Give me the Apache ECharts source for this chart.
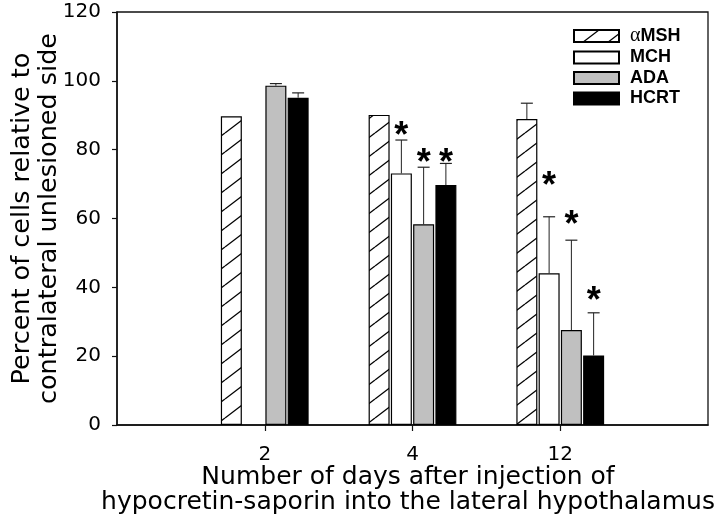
<!DOCTYPE html>
<html>
<head>
<meta charset="utf-8">
<script src="https://cdn.jsdelivr.net/npm/echarts@6/dist/echarts.min.js"></script>
<style>
html,body{margin:0;padding:0;background:#fff;}
#chart{width:720px;height:527px;}
</style>
</head>
<body>
<div id="chart"></div>
<script>
// ---- data ----
const categories = ['', '2', '4', '12', ''];
const seriesNames = ['αMSH', 'MCH', 'ADA', 'HCRT'];
const yTicks = [0, 20, 40, 60, 80, 100, 120];

const amshValues = [null, 89.7, 90.1, 88.9, null];
const mchValues  = [null, null, 73.1, 44.1, null];
const adaValues  = [null, 98.6, 58.3, 27.6, null];
const hcrtValues = [null, 95.1, 69.7, 20.2, null];

const amshErr = [0, 0, 0, 4.6, 0];
const mchErr  = [0, 0, 9.7, 16.4, 0];
const adaErr  = [0, 0.6, 16.6, 26.1, 0];
const hcrtErr = [0, 1.4, 6.3, 12.4, 0];

// y position (in axis units) of the significance asterisks
const amshStar = [null, null, null, null, null];
const mchStar  = [null, null, 85.7, 71.2, null];
const adaStar  = [null, null, 77.9, 59.8, null];
const hcrtStar = [null, null, 77.9, 37.8, null];

// ---- styles ----
const BAR_W = 21;
const BAR_GAP = 0.06;
const STEP = BAR_W * (1 + BAR_GAP);
const STAR_DY = 7;

function hatchPattern() {
  const W = 25, H = 19;
  const c = document.createElement('canvas');
  c.width = W; c.height = H;
  const g = c.getContext('2d');
  g.fillStyle = '#fff';
  g.fillRect(0, 0, W, H);
  g.strokeStyle = '#000';
  g.lineWidth = 1.3;
  for (let k = -1; k <= 1; k++) {
    g.beginPath();
    g.moveTo(0, H + k * H);
    g.lineTo(W, 0 + k * H);
    g.stroke();
  }
  return c;
}

const fills = [
  { image: hatchPattern(), repeat: 'repeat' },
  '#ffffff',
  '#c0c0c0',
  '#000000'
];
const valueSets = [amshValues, mchValues, adaValues, hcrtValues];
const errSets = [amshErr, mchErr, adaErr, hcrtErr];
const starSets = [amshStar, mchStar, adaStar, hcrtStar];

const barSeries = seriesNames.map((name, s) => ({
  name: name,
  type: 'bar',
  barWidth: BAR_W,
  barGap: (BAR_GAP * 100) + '%',
  data: valueSets[s].map(v => (v == null ? '-' : v)),
  itemStyle: { color: fills[s], borderColor: '#000', borderWidth: 1.2 },
  emphasis: { disabled: true },
  animation: false,
  z: 2
}));

const errRows = [];
for (let s = 0; s < seriesNames.length; s++) {
  for (let c = 0; c < categories.length; c++) {
    const v = valueSets[s][c];
    if (v == null) continue;
    const st = starSets[s][c];
    errRows.push([c, s, v, errSets[s][c], st == null ? -1 : st]);
  }
}

function renderErr(params, api) {
  const c = api.value(0), s = api.value(1), v = api.value(2), e = api.value(3), st = api.value(4);
  const p = api.coord([c, v]);
  const x = p[0] + (s - 1.5) * STEP;
  const children = [];
  if (e > 0) {
    const top = api.coord([c, v + e])[1];
    children.push({ type: 'line', shape: { x1: x, y1: p[1], x2: x, y2: top }, style: { stroke: '#222', lineWidth: 1 } });
    children.push({ type: 'line', shape: { x1: x - 6, y1: top, x2: x + 6, y2: top }, style: { stroke: '#222', lineWidth: 1.2 } });
  }
  if (st >= 0) {
    const sy = api.coord([c, st])[1];
    children.push({
      type: 'text', x: x, y: sy + STAR_DY,
      style: { text: '*', fontSize: 36, fontWeight: 'bold', fontFamily: 'Liberation Sans', fill: '#000', align: 'center', verticalAlign: 'middle' }
    });
  }
  return { type: 'group', children: children };
}

const chart = echarts.init(document.getElementById('chart'), null, { renderer: 'canvas' });
chart.setOption({
  animation: false,
  backgroundColor: '#fff',
  grid: {
    left: 117, right: 12, top: 12, bottom: 102,
    show: true, borderColor: '#111', borderWidth: 1.3, backgroundColor: 'transparent',
    outerBoundsMode: 'none'
  },
  legend: {
    data: seriesNames,
    orient: 'vertical',
    left: 573, top: 26,
    padding: 0,
    itemWidth: 45, itemHeight: 12, itemGap: 2.5,
    icon: 'rect',
    selectedMode: false,
    formatter: n => n.charAt(0) === 'α' ? '{a|α}' + n.slice(1) : n,
    textStyle: {
      fontFamily: 'Liberation Sans', fontWeight: 'bold', fontSize: 18, color: '#000',
      padding: [0, 0, 0, 6],
      rich: { a: { fontFamily: 'Liberation Serif', fontWeight: 'normal', fontSize: 20, color: '#000' } }
    }
  },
  xAxis: {
    type: 'category',
    data: categories,
    boundaryGap: false,
    name: 'Number of days after injection of\nhypocretin-saporin into the lateral hypothalamus',
    nameLocation: 'middle',
    nameGap: 40,
    nameMoveOverlap: false,
    nameTextStyle: { fontFamily: 'DejaVu Sans', fontSize: 25, lineHeight: 25, color: '#000', padding: [0, 9, 0, 0] },
    axisLine: { lineStyle: { color: '#111', width: 1.5 } },
    axisTick: { length: 6, lineStyle: { color: '#111', width: 1.2 }, interval: (i, v) => v !== '' },
    axisLabel: { interval: (i, v) => v !== '', margin: 20, fontFamily: 'DejaVu Sans', fontSize: 20, color: '#000' },
    splitLine: { show: false }
  },
  yAxis: {
    type: 'value',
    min: yTicks[0], max: yTicks[yTicks.length - 1], interval: yTicks[1] - yTicks[0],
    name: 'Percent of cells relative to\ncontralateral unlesioned side',
    nameLocation: 'middle',
    nameGap: 54,
    nameMoveOverlap: false,
    nameTextStyle: { fontFamily: 'DejaVu Sans', fontSize: 25.5, lineHeight: 27, color: '#000' },
    axisLine: { show: true, lineStyle: { color: '#111', width: 1.5 } },
    axisTick: { show: true, length: 5, lineStyle: { color: '#111', width: 1.2 } },
    axisLabel: { margin: 16, fontFamily: 'DejaVu Sans', fontSize: 20, color: '#000' },
    splitLine: { show: false }
  },
  series: barSeries.concat([{
    type: 'custom',
    name: 'errors',
    renderItem: renderErr,
    data: errRows,
    encode: { x: 0, y: 2 },
    z: 3,
    silent: true,
    animation: false
  }])
});
</script>
</body>
</html>
